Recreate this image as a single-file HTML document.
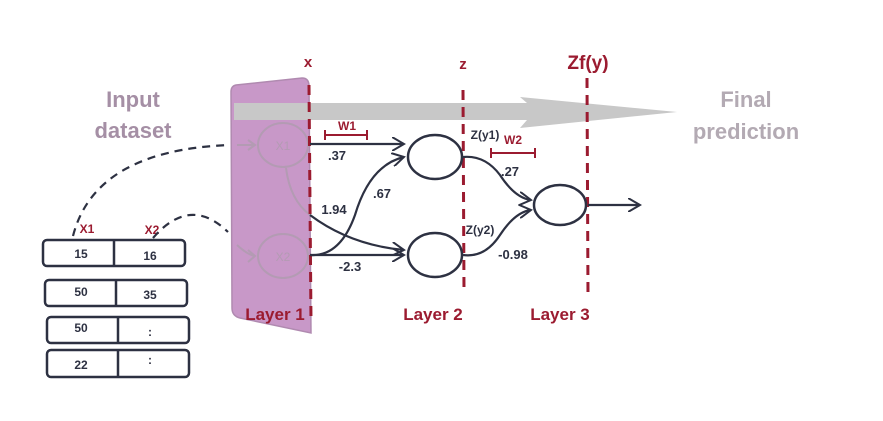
<!DOCTYPE html>
<html><head><meta charset="utf-8"><style>
html,body{margin:0;padding:0;background:#fff;}
svg{display:block;font-family:"Liberation Sans",sans-serif;font-weight:bold;}
</style></head><body>
<svg width="883" height="421" viewBox="0 0 883 421">
<defs>
<marker id="ah" markerWidth="14" markerHeight="14" refX="12" refY="7" orient="auto" markerUnits="userSpaceOnUse">
<path d="M0,0 L12,7 L0,14" fill="none" stroke="#2d3142" stroke-width="2"/></marker>
</defs>
<g fill="#a58fa5" font-size="22" text-anchor="middle">
<text x="133" y="107">Input</text><text x="133" y="138">dataset</text></g>
<g fill="#b3aab3" font-size="22" text-anchor="middle">
<text x="746" y="107">Final</text><text x="746" y="139">prediction</text></g>
<path d="M236,85 L302,78 Q309,78 309,86 L311,333 L240,318 Q232,316 232,308 L231,92 Q231,86 236,85Z" fill="#c898c8" stroke="#b08ab0" stroke-width="1.5"/>
<path d="M234,103 L527,103 L520,97 L677,112 L520,128 L527,120 L234,120 Z" fill="#c8c8c8"/>
<g fill="none" stroke="#b39bb3" stroke-width="2">
<ellipse cx="283" cy="145" rx="25" ry="22"/><ellipse cx="283" cy="256" rx="25" ry="22"/>
<path d="M286,168 Q290,200 310,215"/>
<path d="M237,145 L255,145 M248,140 L255,145 L248,150"/>
<path d="M237,245 Q248,255 255,256 M248,250 L255,256 L248,262"/>
</g>
<text x="283" y="150" fill="#b39bb3" font-size="12" font-weight="normal" text-anchor="middle">X1</text>
<text x="283" y="261" fill="#b39bb3" font-size="12" font-weight="normal" text-anchor="middle">X2</text>
<g stroke="#9b1b30" stroke-width="3" stroke-dasharray="10,7" fill="none">
<line x1="309" y1="85" x2="311" y2="322"/><line x1="463" y1="90" x2="464" y2="292"/><line x1="587" y1="78" x2="588" y2="296"/></g>
<g fill="#9b1b30" font-size="15" text-anchor="middle">
<text x="308" y="67">x</text>
<text x="463" y="69">z</text>
<text x="588" y="69" font-size="19">Zf(y)</text>
<text x="275" y="320" font-size="17">Layer 1</text>
<text x="433" y="320" font-size="17">Layer 2</text>
<text x="560" y="320" font-size="17">Layer 3</text>
<text x="347" y="130" font-size="12">W1</text><text x="513" y="144" font-size="12">W2</text>
<text x="87" y="233" font-size="12">X1</text><text x="152" y="234" font-size="12">X2</text>
</g>
<g stroke="#9b1b30" stroke-width="2"><path d="M325,130 V140 M325,135 H367 M367,130 V140"/><path d="M491,148 V158 M491,153 H535 M535,148 V158"/></g>
<g fill="none" stroke="#2d3142" stroke-width="2.2">
<path d="M310,144 L404,144" marker-end="url(#ah)"/>
<path d="M310,255 Q340,257 355,215 Q370,165 404,157" marker-end="url(#ah)"/>
<path d="M310,215 Q350,245 404,250" marker-end="url(#ah)"/>
<path d="M310,255 L404,255" marker-end="url(#ah)"/>
<path d="M463,157 Q485,155 500,175 Q515,198 531,200" marker-end="url(#ah)"/>
<path d="M463,255 Q485,258 500,235 Q515,212 531,210" marker-end="url(#ah)"/>
<path d="M588,205 L640,205" marker-end="url(#ah)"/>
</g>
<g fill="#fff" stroke="#2d3142" stroke-width="2.5">
<ellipse cx="435" cy="157" rx="27" ry="22"/><ellipse cx="435" cy="255" rx="27" ry="22"/><ellipse cx="560" cy="205" rx="26" ry="20"/></g>
<g fill="#2d3142" font-size="13" text-anchor="middle">
<text x="337" y="160">.37</text><text x="382" y="198">.67</text><text x="334" y="214">1.94</text><text x="350" y="271">-2.3</text>
<text x="510" y="176">.27</text><text x="513" y="259">-0.98</text>
<text x="485" y="139" font-size="12">Z(y1)</text><text x="480" y="234" font-size="12">Z(y2)</text></g>
<g fill="none" stroke="#2d3142" stroke-width="2.2" stroke-dasharray="8,6">
<path d="M73,236 Q95,150 230,145"/><path d="M153,238 Q190,195 228,232"/></g>
<g fill="#fff" stroke="#2d3142" stroke-width="2.5">
<rect x="43" y="240" width="142" height="26" rx="4"/><line x1="114" y1="240" x2="114" y2="266"/>
<rect x="45" y="280" width="142" height="26" rx="4"/><line x1="116" y1="280" x2="116" y2="306"/>
<rect x="47" y="317" width="142" height="26" rx="4"/><line x1="118" y1="317" x2="118" y2="343"/>
<rect x="47" y="350" width="142" height="27" rx="4"/><line x1="118" y1="350" x2="118" y2="377"/></g>
<g fill="#2d3142" font-size="12" text-anchor="middle">
<text x="81" y="258">15</text><text x="150" y="260">16</text>
<text x="81" y="296">50</text><text x="150" y="299">35</text>
<text x="81" y="332">50</text><text x="150" y="336">:</text>
<text x="81" y="369">22</text><text x="150" y="364">:</text></g>
</svg>
</body></html>
